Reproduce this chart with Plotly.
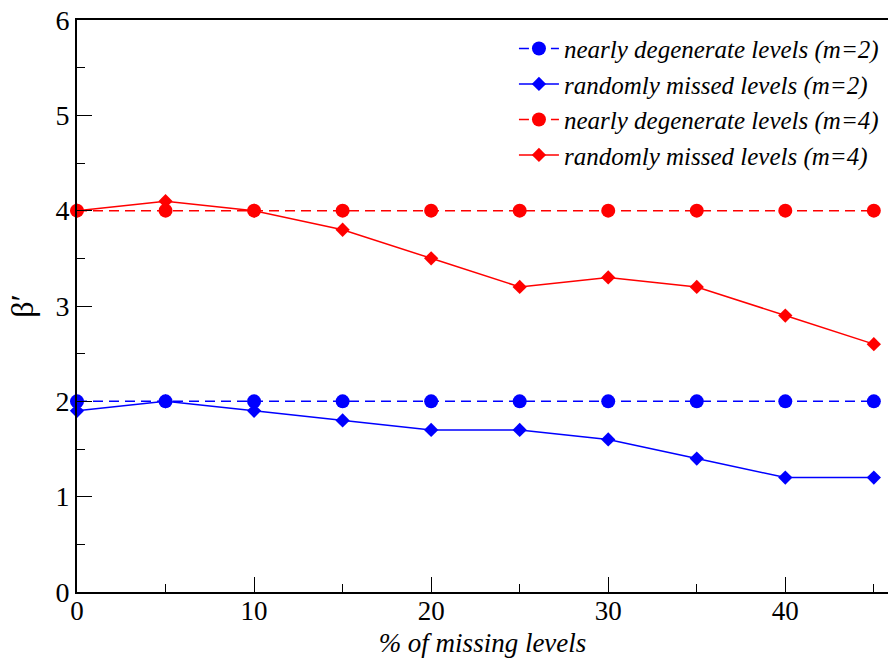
import plotly.graph_objects as go

# percentage of missing levels
missing_pct = [0, 5, 10, 15, 20, 25, 30, 35, 40, 45]

# fitted beta' for each scenario
nearly_deg_m2 = [2.0, 2.0, 2.0, 2.0, 2.0, 2.0, 2.0, 2.0, 2.0, 2.0]
random_miss_m2 = [1.9, 2.0, 1.9, 1.8, 1.7, 1.7, 1.6, 1.4, 1.2, 1.2]
nearly_deg_m4 = [4.0, 4.0, 4.0, 4.0, 4.0, 4.0, 4.0, 4.0, 4.0, 4.0]
random_miss_m4 = [4.0, 4.1, 4.0, 3.8, 3.5, 3.2, 3.3, 3.2, 2.9, 2.6]

x_ticks = [0, 10, 20, 30, 40]
y_ticks = [0, 1, 2, 3, 4, 5, 6]

SERIF = "Liberation Serif"

fig = go.Figure()

series = [
    ("nearly degenerate levels (m=2)", nearly_deg_m2, "blue", "circle", "dash", 14),
    ("randomly missed levels (m=2)", random_miss_m2, "blue", "diamond", "solid", 11),
    ("nearly degenerate levels (m=4)", nearly_deg_m4, "red", "circle", "dash", 14),
    ("randomly missed levels (m=4)", random_miss_m4, "red", "diamond", "solid", 11),
]
for name, ys, color, symbol, dash, size in series:
    fig.add_trace(go.Scatter(
        x=missing_pct, y=ys, name=f"<i>{name}</i>", mode="lines+markers",
        line=dict(color=color, width=1.5, dash="10px,6px" if dash == "dash" else "solid"),
        marker=dict(symbol=symbol, size=size, color=color, line=dict(width=0)),
        cliponaxis=False,
    ))

fig.update_layout(
    width=888, height=661,
    margin=dict(l=77, r=0, t=20, b=69),
    paper_bgcolor="white", plot_bgcolor="white",
    font=dict(family=SERIF, size=28, color="black"),
    showlegend=True,
    legend=dict(
        x=0.995, y=0.99, xanchor="right", yanchor="top",
        bgcolor="rgba(0,0,0,0)",
        font=dict(family=SERIF, size=25, color="black"),
        itemwidth=40, tracegroupgap=0,
    ),
    xaxis=dict(
        range=[0, 45.8], tickvals=x_ticks, mirror=True,
        showgrid=False, zeroline=False, showline=True, linecolor="black", linewidth=2,
        ticks="inside", ticklen=15, tickwidth=1.3, tickcolor="black",
        tickfont=dict(family=SERIF, size=27, color="black"),
        ticklabelstandoff=-6,
        minor=dict(dtick=5, ticks="inside", ticklen=8, tickwidth=1.3, tickcolor="black"),
        title=dict(text="<i>% of missing levels</i>",
                   font=dict(family=SERIF, size=27, color="black"), standoff=8),
    ),
    yaxis=dict(
        range=[0, 6], tickvals=y_ticks,
        showgrid=False, zeroline=False, showline=True, linecolor="black", linewidth=2,
        ticks="inside", ticklen=15, tickwidth=1.3, tickcolor="black",
        tickfont=dict(family=SERIF, size=28, color="black"),
        minor=dict(dtick=0.5, ticks="inside", ticklen=8, tickwidth=1.3, tickcolor="black"),
        title=dict(text="β′", font=dict(family=SERIF, size=32, color="black"), standoff=12),
    ),
)

fig.write_html("out.html")
